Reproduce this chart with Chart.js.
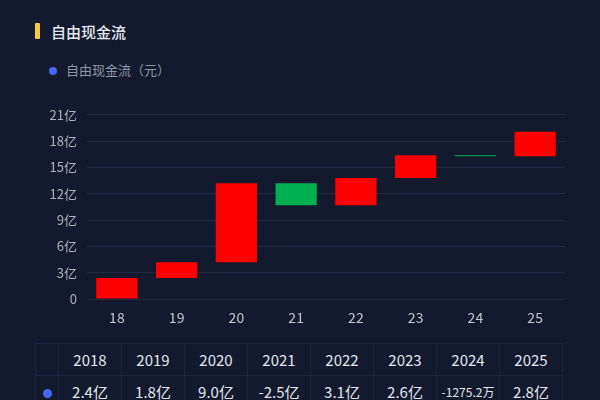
<!DOCTYPE html>
<html>
<head>
<meta charset="utf-8">
<script src="https://cdn.jsdelivr.net/npm/chart.js@4.4.1/dist/chart.umd.min.js"></script>
<style>
  html, body { margin: 0; padding: 0; width: 600px; height: 400px; overflow: hidden; background: #131a2d; font-family: "Noto Sans CJK SC", "Noto Sans", sans-serif; }
  #title { position: absolute; left: 51px; top: 21px; font-size: 15px; color: #e6e9f0; font-weight: 500; line-height: 22px; }
  #bar { position: absolute; left: 35px; top: 23px; width: 5px; height: 16px; background: #f6c945; border-radius: 1px; }
  #legend { position: absolute; left: 49px; top: 61px; font-size: 13px; color: #9096a6; line-height: 18px; }
  #legend .dot { display: inline-block; width: 8px; height: 8px; border-radius: 50%; background: #4466f0; margin-right: 9px; vertical-align: 0px; }
  #wrap { position: absolute; left: 0; top: 97px; width: 600px; height: 233px; }
  table { position: absolute; left: 35px; top: 343px; border-collapse: collapse; }
  td { border: 1px solid #1d2540; text-align: center; color: #e3e6ee; font-size: 15px; height: 31px; padding: 0; width: 62px; }
  td.first { width: 22px; }
  td .dot { display: inline-block; width: 9px; height: 9px; border-radius: 50%; background: #4466f0; }
  td.small { font-size: 12px; }
</style>
</head>
<body>
<div id="bar"></div>
<div id="title">自由现金流</div>
<div id="legend"><span class="dot"></span>自由现金流（元）</div>
<div id="wrap"><canvas id="c" width="600" height="233"></canvas></div>
<table id="tbl"></table>
<script>
const categories = ['18', '19', '20', '21', '22', '23', '24', '25'];
const years = ['2018', '2019', '2020', '2021', '2022', '2023', '2024', '2025'];
const values = [2.4, 1.8, 9.0, -2.5, 3.1, 2.6, -0.12752, 2.8]; // 亿元
const yTicks = [0, 3, 6, 9, 12, 15, 18, 21];

const ranges = [];
let cum = 0;
values.forEach(v => { ranges.push([cum, cum + v]); cum += v; });
const colors = values.map(v => v >= 0 ? '#ff0000' : '#00b050');

function fmt(v) {
  if (Math.abs(v) < 1) return (v * 10000).toFixed(1) + '万';
  return v.toFixed(1) + '亿';
}

// table
const tbl = document.getElementById('tbl');
let r1 = '<tr><td class="first"></td>' + years.map(y => '<td>' + y + '</td>').join('') + '</tr>';
let r2 = '<tr><td class="first"><span class="dot"></span></td>' + values.map(v => '<td class="' + (Math.abs(v) < 1 ? 'small' : '') + '">' + fmt(v) + '</td>').join('') + '</tr>';
tbl.innerHTML = r1 + r2;

new Chart(document.getElementById('c'), {
  type: 'bar',
  data: {
    labels: categories,
    datasets: [{
      data: ranges,
      backgroundColor: colors,
      borderWidth: 0,
      barPercentage: 0.69,
      categoryPercentage: 1
    }]
  },
  options: {
    responsive: false,
    animation: false,
    maintainAspectRatio: false,
    layout: { padding: { top: 11, right: 35, left: 0, bottom: 0 } },
    plugins: { legend: { display: false }, tooltip: { enabled: false } },
    scales: {
      x: {
        grid: { display: false },
        border: { display: false },
        ticks: { color: '#c3c7d1', font: { size: 14, family: '"Noto Sans CJK SC", sans-serif' }, padding: 2 },
        afterFit: s => { s.height = 31; }
      },
      y: {
        min: 0, max: 21,
        afterBuildTicks: s => { s.ticks = yTicks.map(v => ({ value: v })); },
        grid: { color: '#212a42', lineWidth: 1, drawTicks: false },
        border: { display: false },
        ticks: {
          autoSkip: false,
          color: '#aeb2be', font: { size: 13, family: '"Noto Sans CJK SC", sans-serif' }, padding: 10,
          callback: v => v === 0 ? '0' : v + '亿'
        },
        afterFit: s => { s.width = 87; }
      }
    }
  }
});
</script>
</body>
</html>
